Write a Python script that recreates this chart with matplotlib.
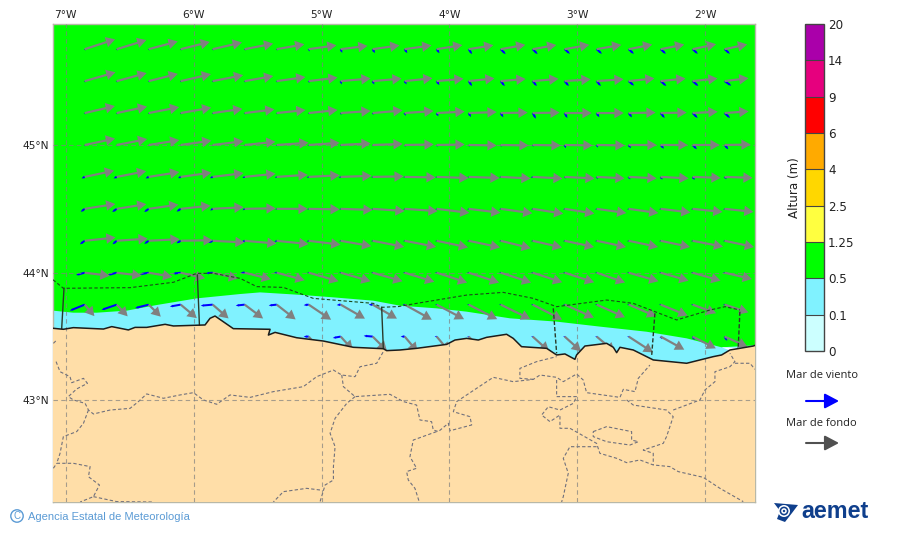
import numpy as np
import matplotlib
matplotlib.use("Agg")
import matplotlib.pyplot as plt
from matplotlib.cm import ScalarMappable
from matplotlib.colors import BoundaryNorm, ListedColormap
from matplotlib.patches import Circle, Polygon

# Grid of the wave arrows
lons = [-6.85, -6.6, -6.35, -6.1, -5.85, -5.6, -5.35, -5.1, -4.85, -4.6, -4.35,
        -4.1, -3.85, -3.6, -3.35, -3.1, -2.85, -2.6, -2.35, -2.1, -1.85]
lats = [45.75, 45.5, 45.25, 45.0, 44.75, 44.5, 44.25, 44.0, 43.75, 43.5]
nan = np.nan

# Swell ("mar de fondo"): screen angle in degrees, length in pixels
swell_dir = [
    [18, 17, 15, 14, 13, 11, 10, 8, 7, 8, 8, 9, 9, 10, 10, 10, 10, 11, 11, 12, 12],
    [16, 15, 14, 13, 11, 10, 8, 7, 5, 5, 6, 5, 6, 5, 5, 4, 4, 6, 6, 6, 7],
    [13, 12, 11, 10, 8, 7, 6, 6, 4, 5, 4, 3, 2, 1, 1, 0, 0, 1, 1, 3, 4],
    [12, 11, 9, 8, 7, 6, 4, 4, 3, 2, 1, 1, -1, -1, -1, -1, -1, 0, 0, 0, 1],
    [12, 11, 9, 8, 7, 6, 4, 3, 2, 1, -1, -2, -2, -3, -3, -3, -3, -3, -3, -2, -2],
    [9, 9, 8, 6, 3, 1, 0, -1, -2, -4, -4, -7, -7, -8, -9, -9, -8, -8, -7, -6, -6],
    [6, 4, 3, 1, -3, -5, -6, -7, -10, -11, -11, -12, -12, -14, -13, -12, -12, -12, -12, -11, -12],
    [-7, -7, -10, -13, -13, -14, -15, -16, -16, -16, -17, -18, -18, -18, -18, -18, -19, -16, -16, -16, -13],
    [-50, -47, -45, -40, -41, -37, -38, -34, -30, -30, -29, -28, -27, -26, -27, -24, -24, -23, -22, -20, -18],
    [nan, nan, nan, nan, nan, nan, nan, -50, -48, -45, -50, -50, -45, nan, -42, -42, -40, -33, -29, -27, -24],
]
swell_len = [
    [32, 31, 30, 30, 30, 29, 28, 28, 27, 27, 27, 26, 25, 25, 24, 25, 25, 24, 24, 24, 23],
    [32, 31, 30, 31, 31, 29, 29, 29, 30, 29, 28, 27, 26, 25, 26, 26, 27, 26, 25, 25, 24],
    [31, 31, 31, 31, 30, 30, 29, 29, 30, 30, 29, 28, 28, 27, 27, 27, 27, 27, 26, 25, 24],
    [31, 31, 31, 31, 31, 31, 32, 31, 30, 30, 29, 28, 28, 28, 28, 28, 28, 28, 27, 27, 26],
    [30, 30, 31, 31, 31, 31, 31, 31, 31, 31, 31, 32, 31, 30, 30, 30, 28, 28, 28, 28, 28],
    [31, 30, 30, 30, 31, 31, 31, 31, 32, 32, 33, 33, 32, 32, 31, 30, 30, 30, 30, 30, 29],
    [31, 31, 31, 32, 32, 32, 32, 32, 31, 32, 32, 32, 32, 31, 30, 30, 30, 30, 30, 31, 30],
    [25, 25, 24, 25, 26, 27, 29, 31, 31, 31, 31, 32, 32, 32, 31, 31, 30, 31, 29, 29, 28],
    [15, 16, 17, 21, 21, 23, 24, 27, 28, 28, 31, 31, 32, 33, 33, 32, 31, 30, 29, 25, 25],
    [nan, nan, nan, nan, nan, nan, nan, 20, 18, 20, 20, 20, 22, nan, 22, 22, 24, 29, 27, 26, 25],
]

# Wind sea ("mar de viento")
wind_dir = [
    [-60, -60, -60, -60, -60, -60, -65, -70, -67, -60, -57, -56, -56, -45, -45, -42, -42, -42, -42, -42, -42],
    [-60, -60, -60, -60, -60, -60, -65, -70, -73, -65, -60, -56, -56, -51, -50, -50, -50, -40, -41, -41, -35],
    [-60, -60, -60, -60, -60, -60, -60, -60, -70, -70, -70, -63, -60, -58, -60, -62, -58, -52, -51, -45, -43],
    [-60, -60, -60, -60, -60, -60, -60, -60, -60, -60, -60, -60, -60, -60, -60, -68, -63, -55, -48, -45, -50],
    [205, 205, 205, 205, 205, 205, 205, 205, 205, 205, 205, 205, 205, 205, 205, -60, -60, -55, -55, -55, -50],
    [217, 215, 215, 214, 215, 215, 210, 210, 210, 210, 210, 210, 210, 210, 210, 210, 210, 210, 210, 210, 210],
    [216, 220, 215, 210, 205, 210, 210, 205, 205, 205, 205, 205, 205, 205, 205, 205, 205, 205, 205, 205, 205],
    [195, 195, 190, 187, 185, 180, 180, 180, 180, 180, 180, 180, 180, 180, 180, 180, 180, 180, 180, 180, 180],
    [202, 199, 194, 190, 185, 186, 186, 186, 186, 180, 180, 180, 180, 180, 180, 180, 180, 180, 180, 180, 180],
    [nan, nan, nan, nan, nan, nan, nan, 180, 190, 175, 180, 180, 180, nan, 180, 180, 180, 180, -60, -60, -60],
]
wind_len = [
    [1.5, 1.5, 1.5, 1.5, 1.5, 1.5, 1.5, 2.5, 4, 4.5, 4.8, 5, 6, 7, 7, 7, 7, 7, 7, 7, 7],
    [1.5, 1.5, 1.5, 1.5, 1.5, 1.5, 1.5, 2, 3.5, 3.7, 3.8, 4.8, 6, 6.5, 6.5, 6.5, 6.5, 7, 7.5, 7.5, 8],
    [1.5, 1.5, 1.5, 1.5, 1.5, 1.5, 1.5, 1.5, 2, 2, 3, 3.7, 4.6, 5, 6.5, 5.7, 5, 5.5, 6.4, 7, 7.3],
    [1.5, 1.5, 1.5, 1.5, 1.5, 1.5, 1.5, 1.5, 1.5, 1.5, 2, 2, 2, 2, 2, 3.5, 3, 4, 5, 6, 5.7],
    [3.5, 3.5, 3.5, 3, 3, 2.5, 2, 2, 2, 1.5, 1.5, 1.5, 1.5, 1.5, 2, 2, 2.5, 3, 3.3, 3.7, 3],
    [5, 5.5, 5.5, 5, 3, 2.5, 1.5, 1.5, 1.5, 1.5, 1.5, 1.5, 1.5, 1.5, 1.5, 1.5, 1.5, 1.5, 1.5, 1.5, 1.5],
    [6, 5.5, 5.5, 5, 5, 3.5, 2.5, 2, 1.5, 1.5, 1.5, 1.5, 1.5, 1.5, 1.5, 1.5, 1.5, 1.5, 1.5, 1.5, 1.5],
    [9, 9, 9, 8, 7, 4, 2.5, 1.5, 1.5, 1.5, 1.5, 1.5, 1.5, 1.5, 1.5, 1.5, 1.5, 1.5, 1.5, 1.5, 1.5],
    [16, 16, 14, 11, 12, 9, 8, 5, 4, 4, 2, 1.5, 1.5, 1.5, 1.5, 1.5, 1.5, 1.5, 1.5, 1.5, 1.5],
    [nan, nan, nan, nan, nan, nan, nan, 5, 8, 9, 4, 2, 1.5, nan, 1.5, 1.5, 1.5, 1.5, 3, 4, 5],
]

# Coastline, west to east
coast_lon = [-7.098, -7.017, -6.939, -6.704, -6.639, -6.509, -6.457, -6.366, -6.222, -6.157,
             -5.910, -5.871, -5.832, -5.741, -5.689, -5.402, -5.415, -5.363, -5.194, -4.985,
             -4.751, -4.517, -4.491, -4.387, -4.257, -4.022, -3.957, -3.866, -3.775, -3.710,
             -3.554, -3.502, -3.437, -3.241, -3.163, -3.098, -3.020, -3.007, -2.942, -2.772,
             -2.720, -2.694, -2.668, -2.564, -2.408, -2.147, -1.939, -1.874, -1.809, -1.627, -1.613]
coast_lat = [43.565, 43.557, 43.570, 43.559, 43.578, 43.552, 43.572, 43.572, 43.596, 43.583,
             43.591, 43.643, 43.661, 43.598, 43.562, 43.557, 43.512, 43.533, 43.491, 43.465,
             43.416, 43.405, 43.390, 43.395, 43.408, 43.439, 43.473, 43.486, 43.473, 43.494,
             43.518, 43.486, 43.421, 43.408, 43.356, 43.364, 43.322, 43.356, 43.426, 43.447,
             43.416, 43.374, 43.416, 43.395, 43.317, 43.291, 43.343, 43.356, 43.395, 43.426, 43.431]

# Limit between the 0.1-0.5 m band and the 0.5-1.25 m band
band_lon = [-7.098, -6.939, -6.756, -6.522, -6.288, -5.975, -5.637, -5.480, -5.142, -4.907,
            -4.595, -4.387, -4.101, -3.866, -3.528, -3.163, -2.825, -2.460, -2.147, -1.874]
band_lat = [43.703, 43.687, 43.687, 43.703, 43.747, 43.799, 43.833, 43.846, 43.825, 43.807,
            43.781, 43.742, 43.721, 43.695, 43.643, 43.617, 43.578, 43.538, 43.486, 43.416]

# Strip without data near the eastern corner
nodata_lon = [-1.874, -1.68, -1.70, -1.809]
nodata_lat = [43.416, 43.410, 43.392, 43.392]

# Offshore forecast zones
zone_top = [(-7.098, 43.945), (-7.017, 43.878), (-6.496, 43.883), (-6.157, 43.925), (-5.975, 43.995),
            (-5.845, 43.995), (-5.637, 43.956), (-5.506, 43.891), (-5.298, 43.885), (-5.064, 43.799),
            (-4.595, 43.760), (-4.530, 43.729), (-4.400, 43.735), (-4.257, 43.760), (-3.866, 43.825),
            (-3.580, 43.846), (-3.345, 43.799), (-3.163, 43.734), (-2.772, 43.786), (-2.564, 43.760),
            (-2.225, 43.630), (-1.965, 43.708), (-1.848, 43.734), (-1.731, 43.708)]
zone_solid = [[(-7.012, 43.878), (-7.030, 43.565)],
              [(-5.970, 43.982), (-5.954, 43.591)],
              [(-4.530, 43.729), (-4.517, 43.408)]]
zone_dashed = [[(-3.189, 43.721), (-3.163, 43.369)],
               [(-2.395, 43.682), (-2.421, 43.343)],
               [(-1.731, 43.695), (-1.744, 43.421)]]

# Province limits on land
land_lines = [
    [(-7.095, 43.447), (-7.069, 43.473)],
    [(-7.074, 43.304), (-7.043, 43.225), (-6.965, 43.186), (-6.952, 43.139), (-6.860, 43.173),
     (-6.829, 43.134), (-6.913, 43.090), (-6.978, 43.030), (-6.939, 43.004), (-6.847, 42.977),
     (-6.821, 42.925), (-6.782, 42.894), (-6.652, 42.925), (-6.496, 42.938), (-6.431, 42.991),
     (-6.366, 43.051), (-6.235, 43.017), (-6.105, 43.043), (-6.001, 43.061), (-5.923, 43.004),
     (-5.819, 42.970), (-5.715, 43.043), (-5.558, 43.024), (-5.376, 43.069), (-5.142, 43.108),
     (-5.038, 43.186), (-4.907, 43.238), (-4.842, 43.199), (-4.738, 43.186), (-4.699, 43.264),
     (-4.569, 43.291), (-4.517, 43.382)],
    [(-6.821, 42.925), (-6.860, 42.821), (-6.913, 42.756), (-7.017, 42.717), (-7.043, 42.586),
     (-7.069, 42.508), (-6.939, 42.508), (-6.808, 42.482), (-6.821, 42.403), (-6.735, 42.338),
     (-6.782, 42.247), (-6.886, 42.205)],
    [(-6.782, 42.247), (-6.600, 42.208), (-6.314, 42.205)],
    [(-7.095, 42.469), (-7.069, 42.508)],
    [(-4.842, 43.199), (-4.829, 43.108), (-4.738, 43.030), (-4.465, 43.048), (-4.360, 42.991),
     (-4.257, 42.964), (-4.231, 42.847), (-4.140, 42.834), (-4.127, 42.769), (-4.087, 42.756),
     (-4.009, 42.821), (-3.996, 42.763), (-3.827, 42.808), (-3.840, 42.873), (-3.970, 42.912),
     (-3.944, 42.991), (-3.788, 43.095), (-3.658, 43.181), (-3.502, 43.147), (-3.345, 43.165),
     (-3.293, 43.199), (-3.163, 43.181), (-3.111, 43.147), (-3.007, 43.207), (-2.955, 43.160),
     (-2.929, 43.061), (-2.668, 43.024), (-2.642, 43.087), (-2.551, 43.069), (-2.525, 43.173),
     (-2.434, 43.277)],
    [(-4.738, 43.030), (-4.803, 42.977), (-4.894, 42.860), (-4.933, 42.743), (-4.894, 42.638),
     (-4.907, 42.482), (-4.907, 42.377), (-4.972, 42.338), (-5.012, 42.205)],
    [(-5.012, 42.299), (-5.116, 42.312), (-5.298, 42.286), (-5.376, 42.205)],
    [(-4.101, 42.756), (-4.283, 42.690), (-4.309, 42.560), (-4.257, 42.469), (-4.335, 42.443),
     (-4.322, 42.377), (-4.270, 42.312), (-4.236, 42.205)],
    [(-3.345, 43.165), (-3.450, 43.173), (-3.450, 43.251), (-3.319, 43.304), (-3.163, 43.343)],
    [(-3.163, 43.160), (-3.163, 43.030), (-3.007, 43.030), (-3.033, 42.977), (-3.137, 42.925),
     (-3.228, 42.951), (-3.280, 42.886), (-3.215, 42.834), (-3.137, 42.886), (-3.137, 42.782),
     (-3.059, 42.782), (-2.851, 42.664), (-2.825, 42.586), (-2.694, 42.547), (-2.616, 42.513),
     (-2.512, 42.534), (-2.408, 42.495), (-2.278, 42.482), (-2.213, 42.443), (-2.017, 42.398),
     (-1.887, 42.312), (-1.705, 42.208)],
    [(-2.851, 42.638), (-3.059, 42.638), (-3.111, 42.547), (-3.072, 42.430), (-3.111, 42.247),
     (-3.124, 42.205)],
    [(-2.616, 43.004), (-2.564, 42.964), (-2.304, 42.925), (-2.252, 42.873), (-2.304, 42.717),
     (-2.330, 42.664), (-2.486, 42.612), (-2.408, 42.586), (-2.408, 42.495)],
    [(-2.252, 42.925), (-2.043, 43.004), (-2.004, 43.082), (-1.926, 43.147), (-1.926, 43.225),
     (-1.809, 43.264), (-1.770, 43.304), (-1.809, 43.369)],
    [(-1.770, 43.291), (-1.652, 43.291), (-1.614, 43.244)],
    [(-2.877, 42.756), (-2.772, 42.795), (-2.577, 42.756), (-2.577, 42.690), (-2.525, 42.677),
     (-2.590, 42.651), (-2.772, 42.677), (-2.877, 42.717), (-2.877, 42.756)],
]

# Colour scale
height_bounds = [0, 0.1, 0.5, 1.25, 2.5, 4, 6, 9, 14, 20]
height_labels = ["0", "0.1", "0.5", "1.25", "2.5", "4", "6", "9", "14", "20"]
height_colors = ["#CCFFFF", "#80F2FF", "#00FF00", "#FFFF40", "#FFD700",
                 "#FFAA00", "#FF0000", "#E6007E", "#AA00AA"]

grid_lons = [-7, -6, -5, -4, -3, -2]
grid_lats = [43, 44, 45]
lon_labels = ["7°W", "6°W", "5°W", "4°W", "3°W", "2°W"]
lat_labels = ["43°N", "44°N", "45°N"]

GREEN = "#00FF00"
CYAN = "#80F2FF"
LAND = "#FFDEA8"
W, H = 900, 533

fig = plt.figure(figsize=(W / 100, H / 100), dpi=100)
ax = fig.add_axes([53 / W, (H - 502) / H, 702 / W, 478 / H])
ax.set_xlim(-7.098, -1.613)
ax.set_ylim(42.205, 45.947)
ax.set_facecolor(GREEN)

# Sea bands and land
ax.add_patch(Polygon(list(zip(band_lon, band_lat)) + list(zip(coast_lon[::-1], coast_lat[::-1])),
                     fc=CYAN, ec="none", zorder=1))
ax.add_patch(Polygon(list(zip(nodata_lon, nodata_lat)), fc="white", ec="none", zorder=1.5))

# Arrows, tail on the grid point; the land hides what runs over the coast
lon2d, lat2d = np.meshgrid(lons, lats)


def draw_arrows(angle, length, **style):
    angle = np.radians(np.array(angle, dtype=float))
    length = np.array(length, dtype=float)
    ok = ~np.isnan(angle)
    ax.quiver(lon2d[ok], lat2d[ok], (length * np.cos(angle))[ok], (length * np.sin(angle))[ok],
              angles="uv", scale_units="dots", scale=1, units="dots", pivot="tail", **style)


draw_arrows(wind_dir, wind_len, color="#0000FF", width=2.0, headwidth=1.3, headlength=1.5,
            headaxislength=1.5, minlength=0, zorder=2)
draw_arrows(swell_dir, swell_len, color="#808080", width=2.2, headwidth=4.8, headlength=4.2,
            headaxislength=4.2, minlength=0, zorder=3)

ax.add_patch(Polygon(list(zip(coast_lon, coast_lat)) + [(-1.613, 42.205), (-7.098, 42.205)],
                     fc=LAND, ec="none", zorder=4))

for line in land_lines:
    xs, ys = zip(*line)
    ax.plot(xs, ys, color="#70707c", lw=0.8, ls=(0, (3, 2)), zorder=5)

for lon in grid_lons:
    ax.axvline(lon, color="#808080", lw=0.8, ls=(0, (4, 3)), alpha=0.7, zorder=5)
for lat in grid_lats:
    ax.axhline(lat, color="#808080", lw=0.8, ls=(0, (4, 3)), alpha=0.7, zorder=5)

xs, ys = zip(*zone_top)
ax.plot(xs, ys, color="#1a4a1a", lw=0.8, ls=(0, (3, 2)), zorder=6)
for line in zone_solid:
    xs, ys = zip(*line)
    ax.plot(xs, ys, color="#2a3a2a", lw=1.0, zorder=6)
for line in zone_dashed:
    xs, ys = zip(*line)
    ax.plot(xs, ys, color="#2a3a2a", lw=1.0, ls=(0, (3, 1.5)), zorder=6)
ax.plot(coast_lon, coast_lat, color="#1c1c1c", lw=1.1, zorder=6)

ax.xaxis.tick_top()
ax.set_xticks(grid_lons, lon_labels)
ax.set_yticks(grid_lats, lat_labels)
ax.tick_params(length=0, labelsize=7.7, pad=3, colors="#222222")
for spine in ax.spines.values():
    spine.set_color("#b8b8a8")
    spine.set_linewidth(1.0)

# Colour bar
cax = fig.add_axes([805 / W, (H - 351) / H, 19 / W, 327 / H])
cmap = ListedColormap(height_colors)
norm = BoundaryNorm(height_bounds, cmap.N)
cb = fig.colorbar(ScalarMappable(norm=norm, cmap=cmap), cax=cax, spacing="uniform",
                  ticks=height_bounds, drawedges=True)
cb.ax.set_yticklabels(height_labels)
cb.ax.tick_params(length=0, labelsize=8.6, pad=3, colors="#222222")
cb.dividers.set_color("#444444")
cb.dividers.set_linewidth(0.8)
cb.outline.set_edgecolor("#444444")
cb.outline.set_linewidth(1.0)
cb.ax.yaxis.set_label_position("left")
cb.set_label("Altura (m)", fontsize=8.6, color="#222222", labelpad=3)

# Legend, footer and logo in pixel coordinates
over = fig.add_axes([0, 0, 1, 1], zorder=10)
over.set_xlim(0, W)
over.set_ylim(H, 0)
over.axis("off")

over.text(822, 376, "Mar de viento", fontsize=8, family="Open Sans", color="#222222",
          ha="center", va="center")
over.text(821, 423, "Mar de fondo", fontsize=8, family="Open Sans", color="#222222",
          ha="center", va="center")
arrow_head = "-|>,head_width=0.45,head_length=0.85"
over.annotate("", xy=(839, 401), xytext=(806, 401),
              arrowprops=dict(arrowstyle=arrow_head, color="#0000FF", lw=1.5, shrinkA=0, shrinkB=0))
over.annotate("", xy=(839, 443), xytext=(806, 443),
              arrowprops=dict(arrowstyle=arrow_head, color="#505050", lw=1.5, shrinkA=0, shrinkB=0))

BLUE_TEXT = "#5B9BD5"
over.add_patch(Circle((17, 516), 6.2, fc="none", ec=BLUE_TEXT, lw=1.0))
over.text(17, 516, "C", fontsize=7, family="Liberation Sans", color=BLUE_TEXT, ha="center", va="center")
over.text(28, 516.5, "Agencia Estatal de Meteorología", fontsize=8, family="Liberation Sans",
          color=BLUE_TEXT, ha="left", va="center")

LOGO = "#0F3F8C"
over.text(801, 511.5, "aemet", fontsize=16.8, fontweight="bold", family="Liberation Sans", color=LOGO,
          ha="left", va="center")
over.add_patch(Polygon([(774, 503), (798, 505), (792, 513), (785, 522), (777, 519), (780, 511)],
                       fc=LOGO, ec="none"))
for r, c in [(6, "white"), (4.4, LOGO), (2.8, "white"), (1.2, LOGO)]:
    over.add_patch(Circle((784, 511), r, fc=c, ec="none"))

fig.savefig("out.png", dpi=100)
